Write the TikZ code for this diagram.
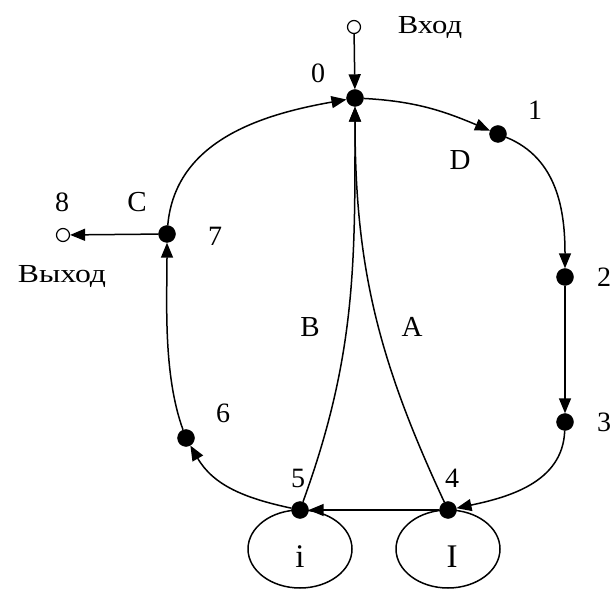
\documentclass[tikz,border=0pt]{standalone}
\usepackage{fontspec}
\usepackage{graphicx}
\setmainfont{Liberation Serif}
\usetikzlibrary{arrows.meta}
\tikzset{
  dot/.style={circle, fill=black, draw=black, inner sep=0pt, minimum size=17pt},
  port/.style={circle, draw=black, fill=white, line width=1.2pt, inner sep=0pt, minimum size=13pt},
  edge/.style={line width=1.5pt, -{Triangle[length=15pt,width=12pt]}},
  plain/.style={line width=1.5pt},
  num/.style={inner sep=0pt, font=\fontsize{28}{32}\selectfont},
  let/.style={inner sep=0pt, font=\fontsize{29}{34}\selectfont},
  big/.style={inner sep=0pt, font=\fontsize{33}{38}\selectfont},
  word/.style={inner sep=0pt, font=\fontsize{26}{30}\selectfont},
}
\begin{document}
\begin{tikzpicture}[x=1pt, y=1pt]
\useasboundingbox (0,0) rectangle (612,589);
% nodes
\node[port] (nin) at (354,562) {};
\node[dot] (n0) at (355,491) {};
\node[dot] (n1) at (498,455) {};
\node[dot] (n2) at (565,312) {};
\node[dot] (n3) at (565,167) {};
\node[dot] (n4) at (448,79) {};
\node[dot] (n5) at (300,79) {};
\node[dot] (n6) at (186,151) {};
\node[dot] (n7) at (167,355) {};
\node[port] (n8) at (63,354) {};
% labels
\node[word] (lin) at (430,561) {\scalebox{1.18}[1]{Вход}};
\node[word] (lout) at (62,312) {\scalebox{1.22}[1]{Выход}};
\node[num] (l0) at (318,516) {0};
\node[num] (l1) at (535,479) {1};
\node[num] (l2) at (604,312) {2};
\node[num] (l3) at (604,167) {3};
\node[num] (l4) at (452,111) {4};
\node[num] (l5) at (298,111) {5};
\node[num] (l6) at (223,176) {6};
\node[num] (l7) at (215,353) {7};
\node[num] (l8) at (62,387) {8};
\node[let] (lD) at (460,429) {D};
\node[let] (lC) at (137,387) {C};
\node[let] (lB) at (310,262) {B};
\node[let] (lA) at (412,262) {A};
\node[big] (li) at (300,32) {i};
\node[big] (lI) at (452,32) {I};
% connectors
\draw[edge] (nin) -- (n0);
\draw[edge] (n0) to[out=-3, in=157] (n1);
\draw[edge] (n1) to[out=-22, in=90] (n2);
\draw[edge] (n2) -- (n3);
\draw[edge] (n3) to[out=-92, in=12] (n4);
\draw[edge] (n4) -- (n5);
\draw[edge] (n5) to[out=168, in=-60] (n6);
\draw[edge] (n6) to[out=110, in=-90, looseness=0.8] (n7);
\draw[edge] (n7) to[out=85, in=190] (n0);
\draw[edge] (n7) -- (n8);
\draw[edge] (n5) to[out=70, in=-90] (n0);
\draw[edge] (n4) to[out=115, in=-90] (n0);
% loops
\draw[plain] (n5.center) arc[start angle=90, end angle=-270, x radius=52pt, y radius=39pt];
\draw[plain] (n4.center) arc[start angle=90, end angle=-270, x radius=52pt, y radius=39pt];
\end{tikzpicture}
\end{document}
